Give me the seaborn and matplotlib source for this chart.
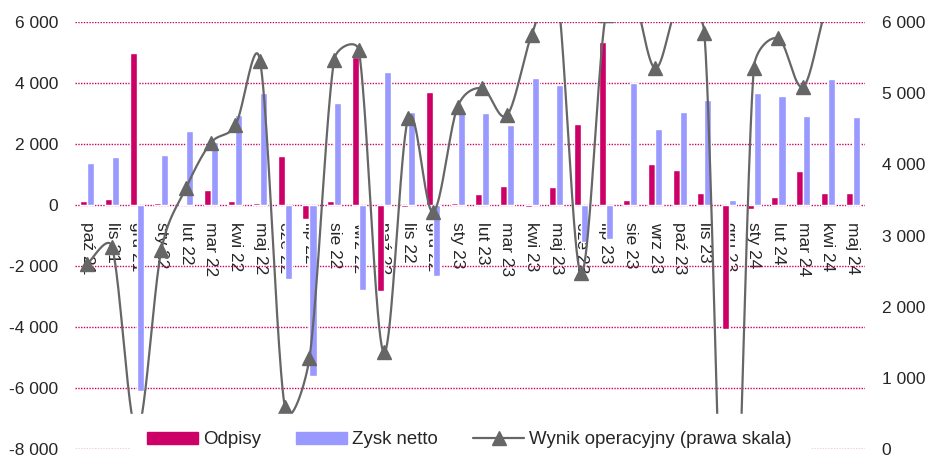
import numpy as np
import pandas as pd
import matplotlib
matplotlib.use("Agg")
import matplotlib.pyplot as plt
from matplotlib.ticker import FuncFormatter, FixedLocator
from matplotlib.patches import Patch
from matplotlib.lines import Line2D
import seaborn as sns

# Dane miesieczne (mln zl)
months = ["paź 21", "lis 21", "gru 21", "sty 22", "lut 22", "mar 22", "kwi 22", "maj 22",
          "cze 22", "lip 22", "sie 22", "wrz 22", "paź 22", "lis 22", "gru 22", "sty 23",
          "lut 23", "mar 23", "kwi 23", "maj 23", "cze 23", "lip 23", "sie 23", "wrz 23",
          "paź 23", "lis 23", "gru 23", "sty 24", "lut 24", "mar 24", "kwi 24", "maj 24"]

odpisy = [140, 200, 5000, 60, 20, 490, 140, 50, 1600, -460, 140, 4840, -2810, -60, 3720, 50,
          360, 620, -60, 580, 2660, 5350, 170, 1330, 1160, 400, -4050, -120, 270, 1110, 400, 400]

zysk_netto = [1380, 1590, -6090, 1640, 2440, 2080, 2960, 3680, -2430, -5600, 3360, -2780, 4350,
              3060, -2340, 3090, 3020, 2620, 4160, 3940, -1200, -1110, 3990, 2490, 3060, 3450,
              170, 3680, 3580, 2930, 4120, 2890]

# prawa skala
wynik_operacyjny = [2600, 2840, 250, 2800, 3670, 4300, 4550, 5450, 590, 1280, 5470, 5600, 1360,
                    4650, 3330, 4810, 5070, 4690, 5820, 6500, 2470, 6100, 6500, 5350, 6300, 5840,
                    -3300, 5350, 5770, 5090, 6250, 6600]

c_odpisy = "#cc0066"
c_zysk = "#9999ff"
c_wynik = "#666666"
c_grid = "#cc0066"

sns.set_style("white")
plt.rcParams['font.family'] = ['Liberation Sans', 'DejaVu Sans']
fs = 12.5
fs_leg = 13.4


def smooth(y, kx=24.69, ky=0.07117, n=40):
    # wygladzona linia w stylu Excela: Bezier, styczne 1/6, ograniczone do polowy odcinka
    P = np.column_stack([np.arange(len(y)) * kx, np.asarray(y, dtype=float) * ky])
    t = np.linspace(0, 1, n)[:, None]
    out = []
    for i in range(len(P) - 1):
        p0 = P[max(i - 1, 0)]
        p1, p2 = P[i], P[i + 1]
        p3 = P[min(i + 2, len(P) - 1)]
        half = np.linalg.norm(p2 - p1) / 2
        o1 = (p2 - p0) / 6
        o2 = (p3 - p1) / 6
        if np.linalg.norm(o1) > half:
            o1 = o1 * half / np.linalg.norm(o1)
        if np.linalg.norm(o2) > half:
            o2 = o2 * half / np.linalg.norm(o2)
        c1, c2 = p1 + o1, p2 - o2
        seg = ((1 - t) ** 3) * p1 + 3 * ((1 - t) ** 2) * t * c1 + 3 * (1 - t) * t ** 2 * c2 + t ** 3 * p2
        out.append(seg)
    out = np.vstack(out)
    return out[:, 0] / kx, out[:, 1] / ky


df = pd.DataFrame({
    "miesiac": months * 2,
    "seria": ["Odpisy"] * len(months) + ["Zysk netto"] * len(months),
    "wartosc": odpisy + zysk_netto,
})

fig = plt.figure(figsize=(9.28, 4.59), dpi=100)
ax = fig.add_axes([0.0808, 0.0218, 0.932 - 0.0808, 0.952 - 0.0218])

sns.barplot(data=df, x="miesiac", y="wartosc", hue="seria", order=months,
            hue_order=["Odpisy", "Zysk netto"],
            palette={"Odpisy": c_odpisy, "Zysk netto": c_zysk},
            width=0.57, saturation=1, errorbar=None, legend=False, ax=ax)

ax.set_ylim(-8000, 6000)
ax.set_xlim(-0.5, len(months) - 0.5)
ax.yaxis.set_major_locator(FixedLocator(range(-8000, 6001, 2000)))
fmt = FuncFormatter(lambda v, p: f"{v:,.0f}".replace(",", " "))
ax.yaxis.set_major_formatter(fmt)
ax.set_xlabel("")
ax.set_ylabel("")
ax.set_axisbelow(True)
ax.grid(axis="y", color=c_grid, linestyle=(0, (1, 1)), linewidth=1)
ax.grid(axis="x", visible=False)
for s in ax.spines.values():
    s.set_visible(False)
ax.spines["bottom"].set_position(("data", 0))
ax.tick_params(axis="x", length=0, pad=12, labelsize=fs, labelrotation=-90)
ax.tick_params(axis="y", length=0, pad=12, labelsize=fs)
for lab in ax.get_xticklabels():
    lab.set_va("top")
    lab.set_ha("center")

ax2 = ax.twinx()
sx, sy = smooth(wynik_operacyjny)
ax2.plot(sx, sy, color=c_wynik, linewidth=1.6)
ax2.plot(np.arange(len(months)), wynik_operacyjny, linestyle="none", marker="^",
         markersize=10, color=c_wynik)
ax2.set_ylim(0, 6000)
ax2.yaxis.set_major_locator(FixedLocator(range(0, 6001, 1000)))
ax2.yaxis.set_major_formatter(fmt)
ax2.tick_params(axis="y", length=0, pad=12, labelsize=fs)
for s in ax2.spines.values():
    s.set_visible(False)
ax2.grid(False)

handles = [Patch(color=c_odpisy), Patch(color=c_zysk),
           Line2D([], [], color=c_wynik, linewidth=1.6, marker="^", markersize=10)]
labels = ["Odpisy", "Zysk netto", "Wynik operacyjny (prawa skala)"]
leg = fig.legend(handles, labels, loc="center", bbox_to_anchor=(0.506, 1 - 440 / 459), ncol=3,
                 frameon=True, framealpha=1, facecolor="white", edgecolor="white", fancybox=False,
                 borderpad=0.95, handlelength=2.7, handleheight=0.55, handletextpad=0.3,
                 columnspacing=1.9, fontsize=fs_leg)
leg.set_zorder(10)

fig.savefig("out.png", dpi=100)
